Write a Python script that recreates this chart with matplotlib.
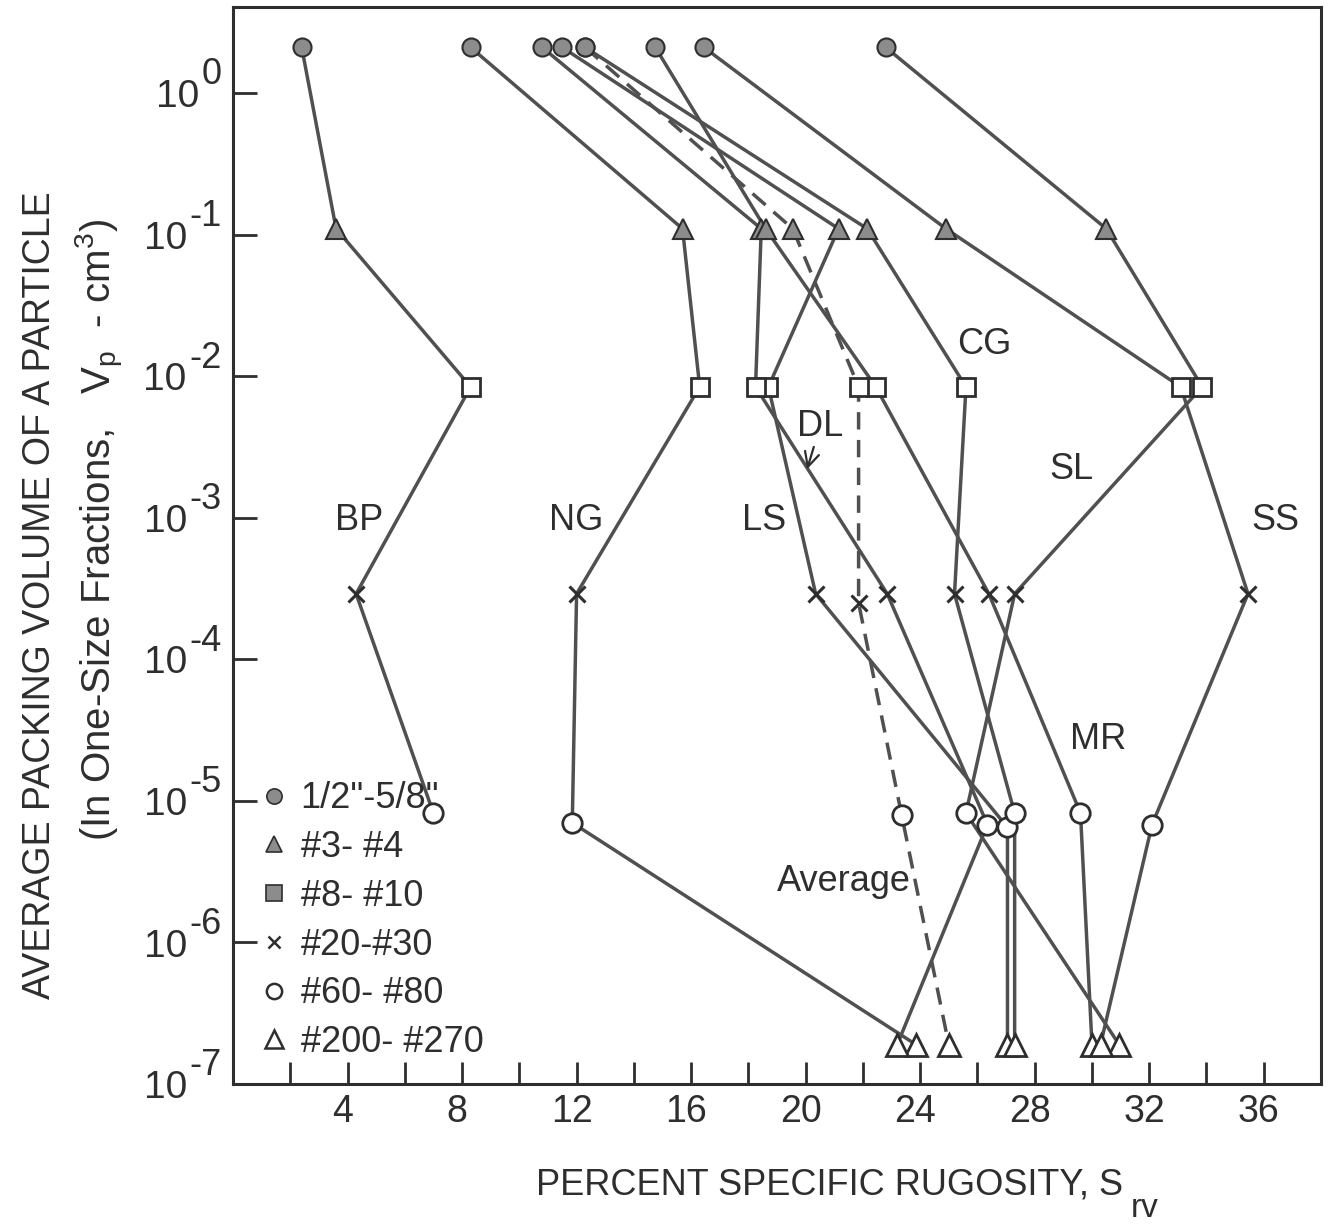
"""
Specific rugosity vs. average packing volume of one-size fractions.
Recreated as out.png
"""

import matplotlib
matplotlib.use('Agg')
import matplotlib.pyplot as plt
from matplotlib.lines import Line2D
from matplotlib.ticker import FixedLocator, NullLocator, NullFormatter
from matplotlib.transforms import ScaledTranslation, blended_transform_factory

plt.rcParams['font.family'] = ['Liberation Sans', 'DejaVu Sans']
plt.rcParams['mathtext.default'] = 'regular'

# ── Data ──────────────────────────────────────────────────────────────────────

FRACTIONS   = ['1/2"-5/8"', '#3- #4', '#8- #10', '#20-#30', '#60- #80', '#200- #270']
VP_FRACTION = [2.1, 0.11, 8.4e-3, 2.9e-4, 7.5e-6, 1.9e-7]   # cm^3

MATERIALS = ['BP', 'NG', 'LS', 'DL', 'CG', 'SL', 'MR', 'SS']
SRV_BP = [2.4, 3.6, 8.3, 4.3, 7.0]
SRV_NG = [8.3, 15.7, 16.3, 12.0, 11.85, 23.85]
SRV_LS = [11.5, 21.15, 18.7, 20.35, 27.05, 27.05]
SRV_DL = [10.8, 18.45, 18.25, 22.85, 26.35, 23.2]
SRV_CG = [12.3, 22.15, 25.6, 25.2, 27.3, 27.3]
SRV_SL = [22.8, 30.5, 33.85, 27.3, 25.6, 30.95]
SRV_MR = [14.75, 18.6, 22.45, 26.4, 29.6, 30.0]
SRV_SS = [16.45, 24.9, 33.1, 35.45, 32.1, 30.3]

# the #60-#80 points sit at slightly different heights in the original
VP_60_80 = [8.2e-6, 7.0e-6, 6.5e-6, 6.8e-6, 8.2e-6, 8.2e-6, 8.2e-6, 6.8e-6]

SRV_AVERAGE = [12.3, 19.55, 21.85, 21.85, 23.35, 25.0]
VP_AVERAGE  = [2.1, 0.11, 8.4e-3, 2.5e-4, 8.0e-6, 1.9e-7]

X_MAJOR = [4, 8, 12, 16, 20, 24, 28, 32, 36]
X_MINOR = [2, 6, 10, 14, 18, 22, 26, 30, 34]
Y_EXPONENTS = [0, -1, -2, -3, -4, -5, -6, -7]

# ── Styles ────────────────────────────────────────────────────────────────────

INK  = '#2e2e2e'
LINE = '#505050'
GREY = '#8c8c8c'
FS   = 26

MARKERS = [
    dict(marker='o', ms=13, mfc=GREY, mec=INK, mew=1.5),
    dict(marker='^', ms=15, mfc=GREY, mec=INK, mew=1.5),
    dict(marker='s', ms=13, mfc='white', mec=INK, mew=2),
    dict(marker='x', ms=11, mec=INK, mew=2.2),
    dict(marker='o', ms=14, mfc='white', mec=INK, mew=2),
    dict(marker='^', ms=16, mfc='white', mec=INK, mew=2),
]
LEGEND_MARKERS = [
    dict(marker='o', ms=11, mfc=GREY, mec=INK, mew=1.2),
    dict(marker='^', ms=12, mfc=GREY, mec=INK, mew=1.2),
    dict(marker='s', ms=11, mfc=GREY, mec=INK, mew=1.2),
    dict(marker='x', ms=9, mec=INK, mew=1.8),
    dict(marker='o', ms=11, mfc='white', mec=INK, mew=1.8),
    dict(marker='^', ms=13, mfc='white', mec=INK, mew=1.8),
]

# ── Plot ──────────────────────────────────────────────────────────────────────

fig = plt.figure(figsize=(13.28, 12.27), dpi=100)
ax = fig.add_axes([233 / 1328, 1 - 1084 / 1227, 1088 / 1328, 1077 / 1227])
ax.set_yscale('log')
ax.set_xlim(0, 38)
ax.set_ylim(1e-7, 4.05)

series = [SRV_BP, SRV_NG, SRV_LS, SRV_DL, SRV_CG, SRV_SL, SRV_MR, SRV_SS]
points = [[] for _ in FRACTIONS]
for srv, v60 in zip(series, VP_60_80):
    vp = (VP_FRACTION[:4] + [v60, VP_FRACTION[5]])[:len(srv)]
    ax.plot(srv, vp, color=LINE, lw=2.5, zorder=2)
    for j, (x, y) in enumerate(zip(srv, vp)):
        points[j].append((x, y))

ax.plot(SRV_AVERAGE, VP_AVERAGE, color=LINE, lw=2.5, ls=(0, (5, 3)), zorder=2)
for j, (x, y) in enumerate(zip(SRV_AVERAGE, VP_AVERAGE)):
    points[j].append((x, y))

for pts, style in zip(points, MARKERS):
    xs, ys = zip(*pts)
    ax.plot(xs, ys, ls='none', zorder=3, **style)

# curve labels
for name, x, y in [('BP', 4.4, 9.6e-4), ('NG', 12.0, 9.6e-4), ('LS', 18.55, 9.6e-4),
                   ('SS', 36.4, 9.6e-4), ('CG', 26.25, 1.66e-2), ('SL', 29.3, 2.2e-3),
                   ('MR', 30.2, 2.7e-5), ('Average', 21.35, 2.7e-6)]:
    ax.text(x, y, name, ha='center', va='center', fontsize=FS, color=INK, zorder=4)
ax.annotate('DL', xy=(20.05, 2.2e-3), xytext=(20.5, 4.4e-3), ha='center', va='center',
            fontsize=FS, color=INK, zorder=4,
            arrowprops=dict(arrowstyle='->', lw=1.6, color=INK, shrinkA=0, shrinkB=0))

# ── Axes ──────────────────────────────────────────────────────────────────────

for s in ax.spines.values():
    s.set_linewidth(2.2)
    s.set_color(INK)

ax.xaxis.set_major_locator(FixedLocator(X_MAJOR))
ax.xaxis.set_minor_locator(FixedLocator(X_MINOR))
ax.set_xticklabels([str(v) for v in X_MAJOR])
ax.tick_params(axis='x', which='both', direction='in', length=16, width=2, color=INK)
ax.tick_params(axis='x', which='major', labelsize=27, pad=7, labelcolor=INK)
shift = ScaledTranslation(-5 / 100, 0, fig.dpi_scale_trans)
for lab in ax.get_xticklabels():
    lab.set_transform(lab.get_transform() + shift)

ax.yaxis.set_major_locator(FixedLocator([10.0 ** k for k in Y_EXPONENTS]))
ax.yaxis.set_minor_locator(NullLocator())
ax.yaxis.set_major_formatter(NullFormatter())
ax.tick_params(axis='y', direction='in', length=17, width=2, color=INK)

# y tick labels drawn as "10" plus a full-size exponent, as in the original
trans = blended_transform_factory(ax.transAxes, ax.transData)
for k in Y_EXPONENTS:
    exp = ax.annotate('0' if k == 0 else f'-{-k}', xy=(0, 10.0 ** k), xycoords=trans,
                      xytext=(-8, 13), textcoords='offset points',
                      ha='right', va='center', fontsize=26, color=INK,
                      annotation_clip=False)
    ax.annotate('10', xy=(0, 0.5), xycoords=exp, xytext=(-2, -16), textcoords='offset points',
                ha='right', va='center', fontsize=28, color=INK, annotation_clip=False)

# legend
handles = [Line2D([], [], ls='none', **st) for st in LEGEND_MARKERS]
ax.legend(handles, FRACTIONS, loc='upper left', bbox_to_anchor=(0.019, 0.281),
          frameon=False, fontsize=FS, handlelength=1.1, handletextpad=0.2,
          labelspacing=0.38, borderpad=0, borderaxespad=0, labelcolor=INK)

# axis titles
xl = fig.text(829 / 1328, 1 - 1185 / 1227, 'PERCENT SPECIFIC RUGOSITY, S',
              ha='center', va='center', fontsize=FS, color=INK)
ax.annotate('rv', xy=(1, 0.5), xycoords=xl, xytext=(6, -17), textcoords='offset points',
            ha='left', va='center', fontsize=FS - 2, color=INK, annotation_clip=False)

fig.text(40 / 1328, 1 - 595 / 1227, 'AVERAGE PACKING VOLUME OF A PARTICLE',
         rotation=90, ha='center', va='center', fontsize=27, color=INK)
fig.text(100 / 1328, 1 - 530 / 1227, r'(In One-Size Fractions,   $V_p$  - cm$^3$)',
         rotation=90, ha='center', va='center', fontsize=29, color=INK)

fig.savefig('out.png', dpi=100)
